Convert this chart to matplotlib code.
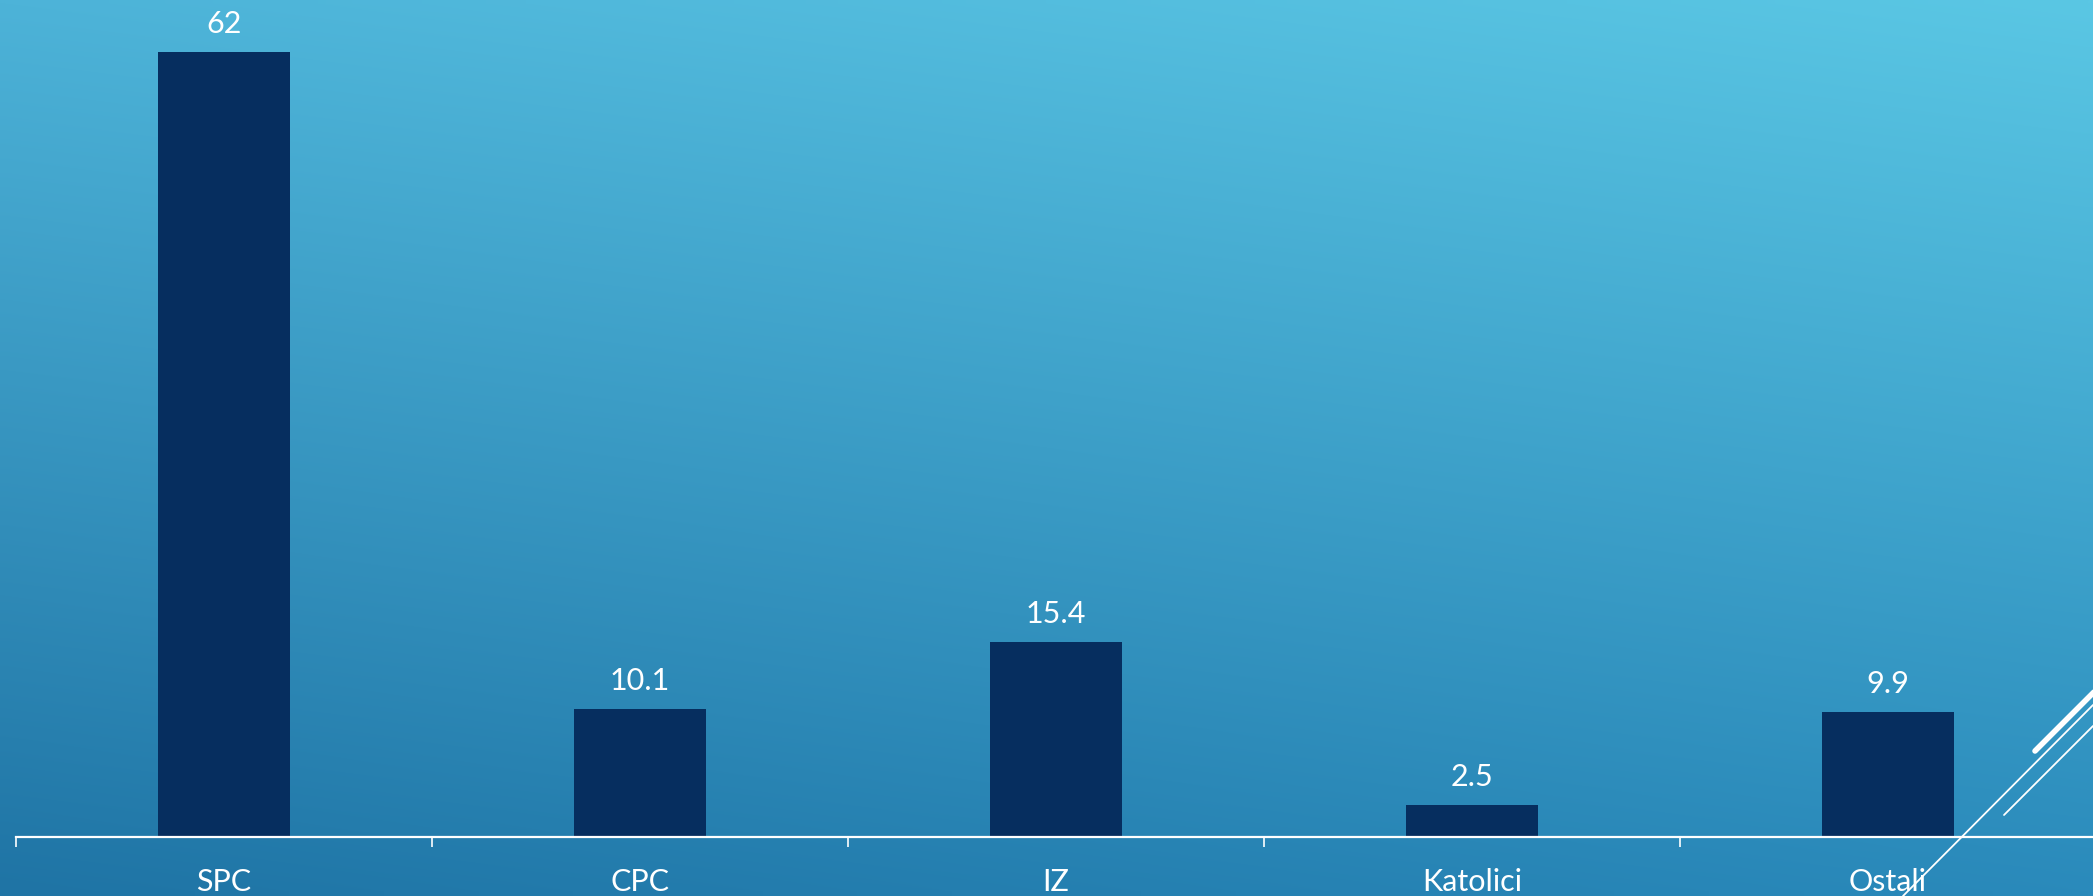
import numpy as np
import matplotlib
matplotlib.use("Agg")
import matplotlib.pyplot as plt
from matplotlib.colors import to_rgb
from matplotlib.lines import Line2D

# data
categories = ["SPC", "CPC", "IZ", "Katolici", "Ostali"]
values = [62, 10.1, 15.4, 2.5, 9.9]
value_labels = ["62", "10.1", "15.4", "2.5", "9.9"]

W, H = 2093, 896
fig = plt.figure(figsize=(W / 100, H / 100), dpi=100)

# background gradient (four corners blended)
tl, tr = np.array(to_rgb("#4DB3D8")), np.array(to_rgb("#5AC7E4"))
bl, br = np.array(to_rgb("#1F74A5")), np.array(to_rgb("#2A8ABB"))
gx = np.linspace(0, 1, 200)[None, :, None]
gy = np.linspace(0, 1, 100)[:, None, None]
grad = (1 - gy) * ((1 - gx) * tl + gx * tr) + gy * ((1 - gx) * bl + gx * br)
bg = fig.add_axes([0, 0, 1, 1], zorder=0)
bg.imshow(grad, aspect="auto", extent=[0, 1, 0, 1], interpolation="bilinear")
bg.axis("off")

font = dict(family="Lato", weight="normal", color="white", fontsize=22)

ax = fig.add_axes([16 / W, (H - 837) / H, 2080 / W, 837 / H], zorder=1)
ax.patch.set_alpha(0)
x = np.arange(len(categories))
bars = ax.bar(x, values, width=0.315, color="#062E5F")
ax.set_xlim(-0.5, len(categories) - 0.5)
ax.set_ylim(0, 66.1)

for b, lab in zip(bars, value_labels):
    ax.annotate(lab, (b.get_x() + b.get_width() / 2, b.get_height()),
                xytext=(0, 14), textcoords="offset pixels",
                ha="center", va="bottom", **font)

for s in ["top", "right", "left"]:
    ax.spines[s].set_visible(False)
ax.spines["bottom"].set_color("white")
ax.spines["bottom"].set_linewidth(1.6)
ax.set_yticks([])
ax.set_xticks(np.arange(-0.5, len(categories), 1.0))
ax.set_xticklabels([])
ax.set_xticks(x, minor=True)
ax.set_xticklabels(categories, minor=True, **font)
ax.tick_params(axis="x", which="major", direction="out", length=7, width=1.2,
               color="white")
ax.tick_params(axis="x", which="minor", length=0, pad=22)

# decorative lines in the lower right corner
def px_line(x0, y0, x1, y1, lw):
    fig.add_artist(Line2D([x0 / W, x1 / W], [1 - y0 / H, 1 - y1 / H],
                          transform=fig.transFigure, color="white", lw=lw,
                          solid_capstyle="round", zorder=5))

px_line(1903, 896, 2093, 705, 1.3)
px_line(2004, 815, 2093, 726, 1.3)
px_line(2035, 751, 2095, 691, 4.0)

fig.savefig("out.png", dpi=100)
